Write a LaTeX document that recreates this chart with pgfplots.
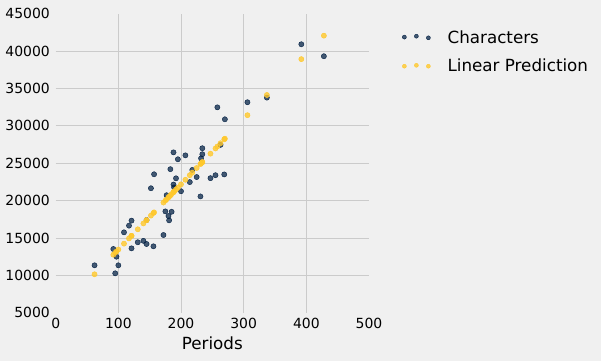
\documentclass[border=0pt]{standalone}
\usepackage{fontspec}
\setmainfont{DejaVu Sans}
\usepackage{pgfplots}
\usepackage{pgfplotstable}
\pgfplotsset{compat=1.18}
\definecolor{bgc}{HTML}{F0F0F0}
\definecolor{gridc}{HTML}{CBCBCB}
\definecolor{cblue}{RGB}{0,30,66}
\definecolor{cgold}{RGB}{255,200,44}
\pgfplotstableread{
per chars pred
392 40900 38912
428 39300 42049
337 33767 34118
306 33150 31416
258 32470 27232
270 30870 28278
234 27000 25140
234 26200 25140
232 25650 24966
263 27450 27668
225 23150 24356
247 23000 26274
255 23395 26971
269 23500 28191
188 26450 21131
195 25526 21741
207 26050 22787
183 24200 20695
157 23520 18429
218 24100 23746
192 22980 21480
214 22476 23397
188 22148 21131
189 21759 21218
200 21250 22177
152 21650 17993
177 20720 20172
231 20558 24879
175 18560 19998
185 18508 20870
180 17940 20434
181 17360 20521
172 15400 19737
117 16650 14943
121 17320 15291
109 15760 14245
140 14622 16947
131 14431 16163
145 14200 17383
156 13890 18342
121 13620 15291
92 13530 12764
97 12500 13200
100 11350 13461
62 11350 10149
95 10280 13025
145 17400 17383
}\littlewomen
\begin{document}
\begin{tikzpicture}
\path[fill=bgc, use as bounding box] (-55.7bp,-48.2bp) rectangle (545.3bp,312.8bp);
\begin{axis}[
  at={(0,0)}, anchor=south west,
  scale only axis, width=313.3bp, height=299.2bp,
  xmin=0, xmax=500, ymin=5000, ymax=45000,
  axis line style={draw=none},
  major tick length=0pt,
  xtick={100,200,300,400}, extra x ticks={0,500},
  ytick={10000,15000,...,40000}, extra y ticks={5000,45000},
  xmajorgrids, ymajorgrids,
  extra tick style={grid=none, major tick length=0pt},
  grid style={gridc, line width=1bp},
  scaled ticks=false,
  /pgf/number format/.cd, 1000 sep={}, assume math mode=true,
  /pgfplots/.cd,
  xticklabel style={font=\fontsize{14}{16}\selectfont, inner sep=0pt, anchor=north, yshift=-5.5bp},
  yticklabel style={font=\fontsize{14}{16}\selectfont, inner sep=0pt, anchor=east, xshift=-5.7bp},
  xlabel={Periods},
  xlabel style={at={(axis description cs:0.5,0)}, anchor=north, inner sep=0pt, yshift=-24bp, font=\fontsize{16.8}{20}\selectfont},
  legend cell align=left,
  legend style={at={(axis description cs:1.1053,0.9445)}, anchor=north west, draw=none, fill=none,
    inner sep=0pt, nodes={inner sep=0pt}, row sep=14.2bp, column sep=17bp,
    font=\fontsize{16.8}{20}\selectfont},
]
\addplot[only marks, mark=*, mark size=2.6bp, color=cblue, mark options={draw=none, fill=cblue, fill opacity=0.72},
  legend image code/.code={\fill[cblue, fill opacity=0.72] (2bp,0.4bp) circle (2bp) (14bp,1.3bp) circle (2bp) (26bp,-0.3bp) circle (2bp);}]
  table[x=per, y=chars] {\littlewomen};
\addlegendentry{Characters}
\addplot[only marks, mark=*, mark size=2.6bp, color=cgold, mark options={draw=none, fill=cgold, fill opacity=0.8},
  legend image code/.code={\fill[cgold, fill opacity=0.8] (2bp,-0.3bp) circle (2bp) (14bp,0.6bp) circle (2bp) (26bp,-0.3bp) circle (2bp);}]
  table[x=per, y=pred] {\littlewomen};
\addlegendentry{Linear Prediction}
\end{axis}
\end{tikzpicture}
\end{document}
